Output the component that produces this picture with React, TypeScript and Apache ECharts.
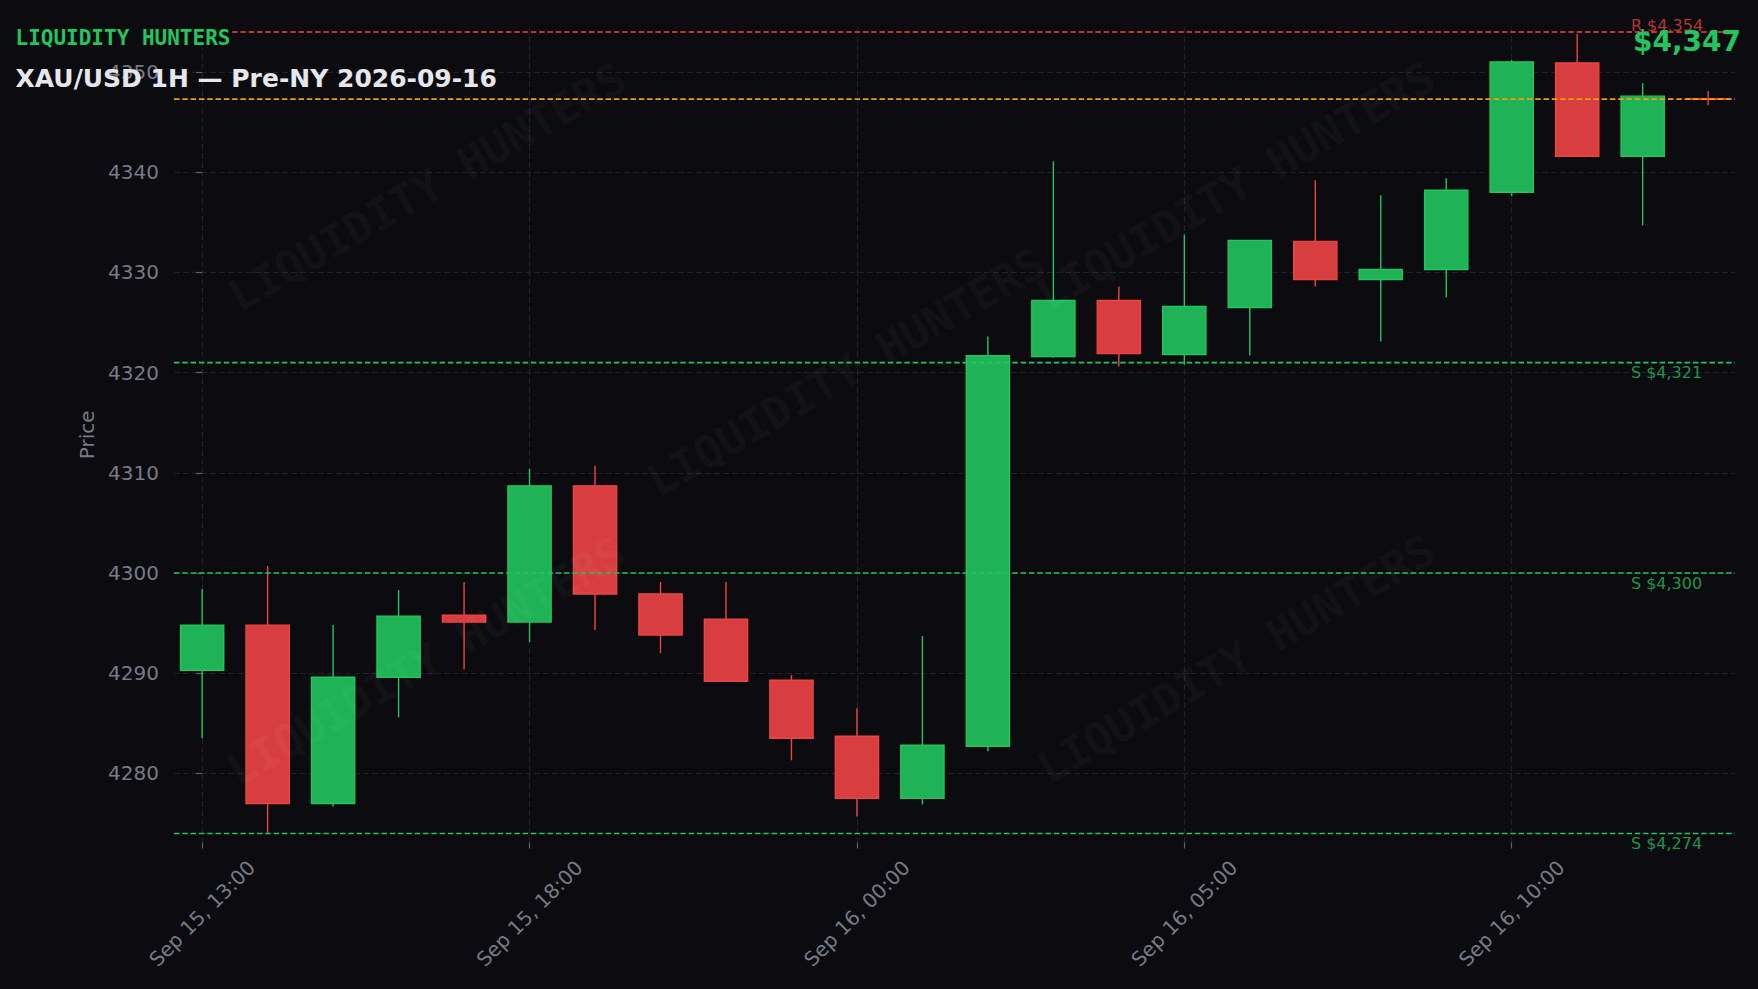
import React, { useEffect, useRef } from "react";
import * as echarts from "echarts";

// ---------- data ----------
const TIMES = [
  "Sep 15, 13:00", "Sep 15, 14:00", "Sep 15, 15:00", "Sep 15, 16:00", "Sep 15, 17:00",
  "Sep 15, 18:00", "Sep 15, 19:00", "Sep 15, 20:00", "Sep 15, 21:00", "Sep 15, 22:00",
  "Sep 16, 00:00", "Sep 16, 01:00", "Sep 16, 02:00", "Sep 16, 03:00", "Sep 16, 04:00",
  "Sep 16, 05:00", "Sep 16, 06:00", "Sep 16, 07:00", "Sep 16, 08:00", "Sep 16, 09:00",
  "Sep 16, 10:00", "Sep 16, 11:00", "Sep 16, 12:00", "Sep 16, 13:00",
];
const OPEN = [
  4290.3, 4294.8, 4277.0, 4289.6, 4295.8, 4295.1, 4308.7, 4297.9, 4295.4, 4289.3,
  4283.7, 4277.5, 4282.7, 4321.6, 4327.2, 4321.8, 4326.5, 4333.1, 4329.3, 4330.3,
  4338.0, 4350.9, 4341.6, 4347.35,
];
const CLOSE = [
  4294.8, 4277.0, 4289.6, 4295.7, 4295.1, 4308.7, 4297.9, 4293.8, 4289.2, 4283.5,
  4277.5, 4282.8, 4321.7, 4327.2, 4321.9, 4326.6, 4333.2, 4329.3, 4330.3, 4338.2,
  4351.0, 4341.6, 4347.6, 4347.3,
];
const LOW = [
  4283.5, 4274.0, 4276.7, 4285.6, 4290.4, 4293.1, 4294.3, 4292.0, 4289.2, 4281.3,
  4275.7, 4276.9, 4282.2, 4321.5, 4320.6, 4320.8, 4321.7, 4328.6, 4323.1, 4327.5,
  4337.6, 4341.6, 4334.7, 4346.7,
];
const HIGH = [
  4298.4, 4300.7, 4294.8, 4298.3, 4299.1, 4310.4, 4310.7, 4299.1, 4299.1, 4289.8,
  4286.5, 4293.7, 4323.6, 4341.1, 4328.6, 4333.8, 4333.2, 4339.2, 4337.7, 4339.4,
  4351.2, 4353.8, 4348.9, 4348.1,
];
const X_TICKS = [0, 5, 10, 15, 20];
const Y_TICKS = [4280, 4290, 4300, 4310, 4320, 4330, 4340, 4350];
const LEVEL_VALUES = [4354, 4347.3, 4321, 4300, 4274];
const LEVEL_LABELS = ["R $4,354", "", "S $4,321", "S $4,300", "S $4,274"];
const LEVEL_KINDS = ["resistance", "price", "support", "support", "support"];
const LAST_PRICE_TEXT = "$4,347";
const BRAND = "LIQUIDITY HUNTERS";
const TITLE = "XAU/USD 1H — Pre-NY 2026-09-16";
const Y_NAME = "Price";

// ---------- styles ----------
const BG = "#0b0b10";
const GREEN = "#22c55e";
const RED = "#ef4444";
const ORANGE = "#f59e0b";
const GREEN_FACE = "#20b257";
const RED_FACE = "#d83e3f";
const GREEN_DIM = "rgba(34,197,94,0.75)";
const RED_DIM = "rgba(239,68,68,0.75)";
const GRID_COLOR = "#20222a";
const TICK_COLOR = "#5f6570";
const LABEL_COLOR = "#767c87";
const FONT = "DejaVu Sans";
const MONO = "DejaVu Sans Mono";
const BODY_W = 0.66;
const LABEL_X = 21.82;

const KIND_COLOR: Record<string, string> = { resistance: RED, price: ORANGE, support: GREEN };
const KIND_TEXT: Record<string, string> = { resistance: RED_DIM, price: ORANGE, support: GREEN_DIM };

function buildOption() {
  const candleData = OPEN.map((o, i) => [i, o, CLOSE[i], LOW[i], HIGH[i]]);
  const levelData = LEVEL_VALUES.map((v, i) => [v, i]);

  const watermarkPos = [
    [427, 187],
    [846, 372],
    [1236, 186],
    [426, 661],
    [1236, 659],
  ];

  const graphic: any[] = [
    ...watermarkPos.map(([x, y]) => ({
      type: "text",
      x,
      y,
      rotation: Math.PI / 6,
      z: 90,
      silent: true,
      style: {
        text: BRAND,
        fill: "rgba(255,255,255,0.05)",
        fontFamily: MONO,
        fontWeight: "bold",
        fontSize: 44,
        align: "center",
        verticalAlign: "middle",
      },
    })),
    {
      type: "rect",
      z: 99,
      shape: { x: 12, y: 27, width: 220, height: 21 },
      style: { fill: BG },
    },
    {
      type: "text",
      x: 15.5,
      y: 38,
      z: 100,
      style: {
        text: BRAND,
        fill: GREEN,
        fontFamily: MONO,
        fontWeight: "bold",
        fontSize: 21,
        align: "left",
        verticalAlign: "middle",
      },
    },
    {
      type: "text",
      x: 15.5,
      y: 78,
      z: 100,
      style: {
        text: TITLE,
        fill: "#e6e7ec",
        fontFamily: FONT,
        fontWeight: "bold",
        fontSize: 25,
        align: "left",
        verticalAlign: "middle",
      },
    },
    {
      type: "text",
      x: 1741,
      y: 41,
      z: 100,
      style: {
        text: LAST_PRICE_TEXT,
        fill: GREEN,
        fontFamily: FONT,
        fontWeight: "bold",
        fontSize: 28,
        align: "right",
        verticalAlign: "middle",
      },
    },
  ];

  return {
    animation: false,
    backgroundColor: BG,
    textStyle: { fontFamily: FONT },
    grid: {
      left: 174,
      right: 23,
      top: 27,
      bottom: 146.5,
      containLabel: false,
      outerBoundsMode: "none",
    },
    xAxis: {
      type: "value",
      min: -0.43,
      max: 23.41,
      axisLine: { show: false },
      axisTick: {
        show: true,
        length: 6,
        customValues: X_TICKS,
        lineStyle: { color: TICK_COLOR, width: 1.2 },
      },
      axisLabel: {
        customValues: X_TICKS,
        formatter: (v: number) => TIMES[Math.round(v)] ?? "",
        rotate: 45,
        align: "center",
        verticalAlign: "middle",
        margin: 71,
        color: LABEL_COLOR,
        fontSize: 20,
        fontFamily: FONT,
      },
      splitLine: {
        show: true,
        lineStyle: { color: GRID_COLOR, type: [6, 3], width: 1.2 },
      },
    },
    yAxis: {
      type: "value",
      min: 4273.1,
      max: 4354.5,
      name: Y_NAME,
      nameLocation: "middle",
      nameGap: 73,
      nameTextStyle: { color: LABEL_COLOR, fontSize: 20, fontFamily: FONT },
      axisLine: { show: false },
      axisTick: {
        show: true,
        length: 6,
        customValues: Y_TICKS,
        lineStyle: { color: TICK_COLOR, width: 1.2 },
      },
      axisLabel: {
        customValues: Y_TICKS,
        formatter: (v: number) => String(Math.round(v)),
        margin: 15,
        color: LABEL_COLOR,
        fontSize: 20,
        fontFamily: FONT,
      },
      splitLine: {
        show: true,
        lineStyle: { color: GRID_COLOR, type: [6, 3], width: 1.2 },
      },
    },
    graphic,
    series: [
      {
        type: "custom",
        name: "XAU/USD",
        z: 2,
        encode: { x: 0, y: [1, 2, 3, 4] },
        data: candleData,
        renderItem: (params: any, api: any) => {
          const i = api.value(0);
          const o = api.value(1);
          const c = api.value(2);
          const l = api.value(3);
          const h = api.value(4);
          const up = c > o;
          const edge = up ? GREEN : RED;
          const face = up ? GREEN_FACE : RED_FACE;
          const pO = api.coord([i, o]);
          const pC = api.coord([i, c]);
          const pL = api.coord([i, l]);
          const pH = api.coord([i, h]);
          const w = api.size([BODY_W, 0])[0];
          const top = Math.min(pO[1], pC[1]);
          const bot = Math.max(pO[1], pC[1]);
          return {
            type: "group",
            children: [
              {
                type: "line",
                shape: { x1: pH[0], y1: pH[1], x2: pL[0], y2: pL[1] },
                style: { stroke: edge, lineWidth: 1.4 },
              },
              {
                type: "rect",
                shape: { x: pO[0] - w / 2, y: top, width: w, height: Math.max(bot - top, 0.6) },
                style: { fill: face, stroke: edge, lineWidth: 1.4 },
              },
            ],
          };
        },
      },
      {
        type: "custom",
        name: "levels",
        z: 5,
        clip: false,
        silent: true,
        encode: { y: 0 },
        data: levelData,
        renderItem: (params: any, api: any) => {
          const v = api.value(0);
          const idx = api.value(1);
          const kind = LEVEL_KINDS[idx];
          const cs = params.coordSys;
          const y = api.coord([0, v])[1];
          const lp = api.coord([LABEL_X, v]);
          const children: any[] = [
            {
              type: "line",
              shape: { x1: cs.x, y1: y, x2: cs.x + cs.width, y2: y },
              style: { stroke: KIND_COLOR[kind], lineWidth: 1.7, lineDash: [5.5, 2.8] },
            },
          ];
          const label = LEVEL_LABELS[idx];
          if (label) {
            children.push({
              type: "text",
              x: lp[0],
              y: kind === "resistance" ? y + 1 : y + 2,
              style: {
                text: label,
                fill: KIND_TEXT[kind],
                fontFamily: FONT,
                fontSize: 16,
                align: "left",
                verticalAlign: kind === "resistance" ? "bottom" : "top",
              },
            });
          }
          return { type: "group", children };
        },
      },
    ],
  };
}

export default function App() {
  const ref = useRef<HTMLDivElement>(null);
  useEffect(() => {
    document.body.style.margin = "0";
    document.body.style.background = BG;
    if (!ref.current) return;
    const chart = echarts.init(ref.current, undefined, { renderer: "svg" });
    chart.setOption(buildOption() as any);
    return () => chart.dispose();
  }, []);
  return (
    <div
      ref={ref}
      style={{ position: "fixed", left: 0, top: 0, width: "1758px", height: "989px" }}
    />
  );
}
